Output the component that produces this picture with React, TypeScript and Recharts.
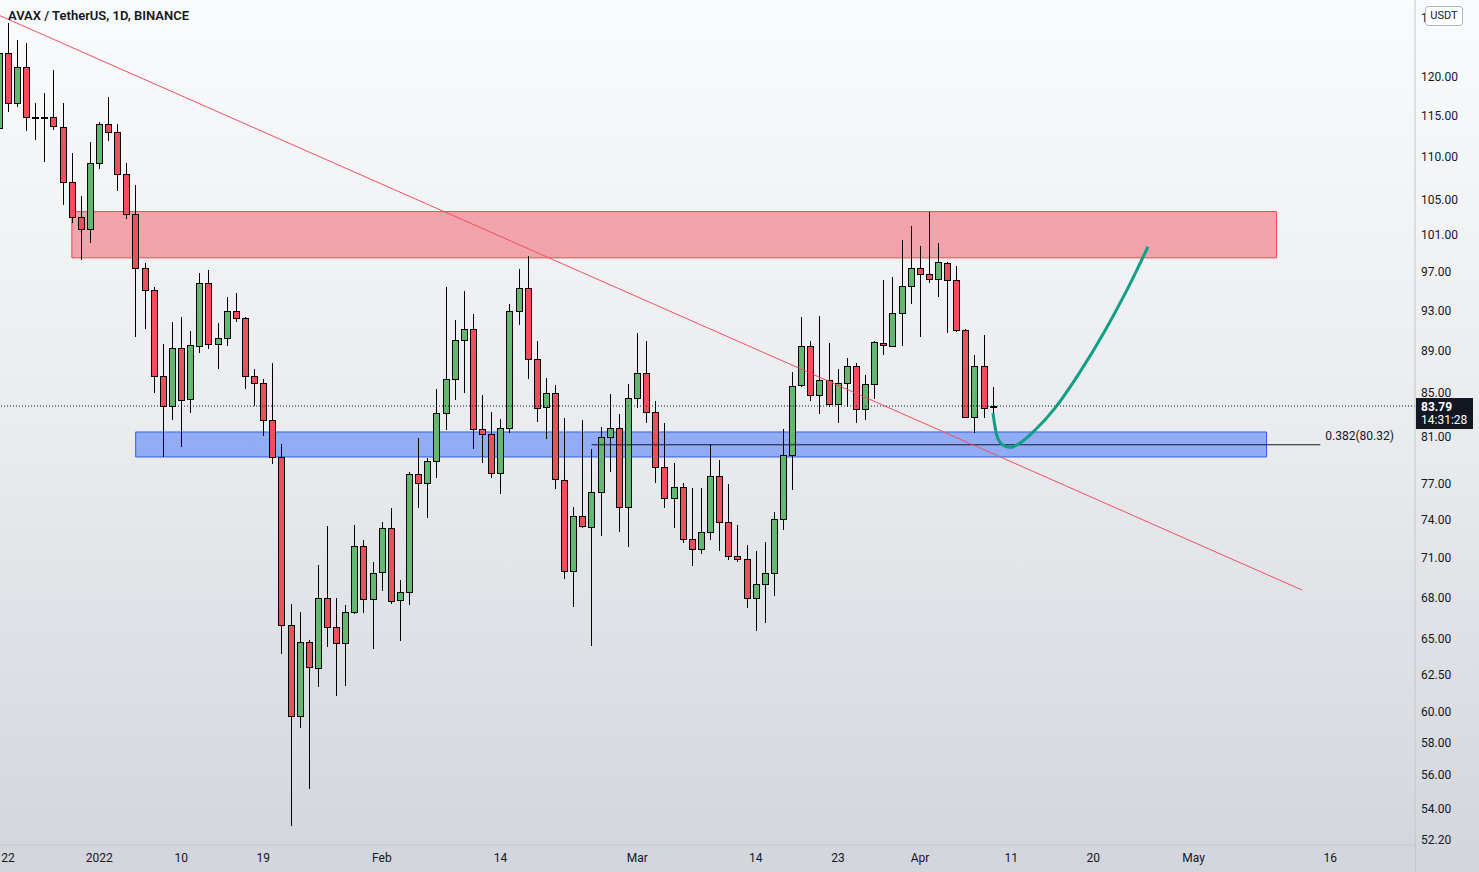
import React from "react";
import { ComposedChart, Bar, Line, XAxis, YAxis, ReferenceArea, ReferenceLine } from "recharts";

// daily candles, AVAX/USDT, Dec 21 2021 .. Apr 9 2022 (day 0 = Dec 22)
const firstDay = -1;
const opens = [
  113.5, 123.2, 116.6, 121.3, 114.9, 114.8, 114.9, 113.6, 107.0, 103.0, 101.6, 109.25, 114.0, 113.0, 108.0, 103.35,
  97.4, 95.1, 86.6, 83.8, 89.27, 84.43, 89.46, 95.83, 89.66, 90.25, 92.95, 92.24, 86.6, 85.92, 82.52, 79.26,
  65.97, 59.73, 64.76, 62.95, 67.95, 65.83, 64.69, 66.91, 71.92, 67.87, 69.9, 73.34, 67.8, 68.39, 77.8, 77.04,
  78.91, 83.16, 86.3, 90.05, 91.14, 81.71, 81.27, 77.88, 81.8, 92.95, 95.31, 88.2, 83.7, 85.0, 77.29, 69.98,
  74.31, 73.42, 76.28, 81.0, 81.8, 75.05, 84.53, 86.87, 83.25, 78.4, 75.79, 76.7, 72.47, 71.68, 73.02, 77.63,
  73.83, 71.14, 70.91, 67.95, 69.0, 69.83, 74.07, 79.43, 85.74, 89.46, 84.8, 86.2, 83.98, 85.92, 87.53, 83.52,
  85.83, 89.76, 89.46, 92.75, 95.52, 97.4, 96.78, 96.25, 97.95, 96.15, 91.04, 82.79, 87.53, 83.7,
];
const highs = [
  124.2, 127.3, 124.9, 124.5, 116.7, 117.9, 120.9, 116.6, 110.4, 105.4, 111.8, 114.25, 117.4, 114.0, 109.25, 106.65,
  97.95, 95.4, 89.66, 91.84, 92.34, 90.94, 96.9, 97.2, 91.74, 94.38, 94.8, 92.34, 87.25, 86.3, 87.8, 80.39,
  67.5, 66.91, 64.9, 70.45, 73.5, 67.95, 67.43, 73.58, 72.39, 70.68, 73.83, 74.96, 69.3, 77.97, 80.92, 79.17,
  85.36, 95.42, 92.04, 95.0, 92.65, 84.8, 83.25, 82.61, 93.66, 97.3, 98.7, 89.95, 86.39, 85.74, 82.7, 75.05,
  82.52, 79.95, 81.89, 84.9, 83.07, 85.83, 90.74, 89.95, 84.25, 82.25, 78.74, 77.04, 76.62, 76.62, 80.39, 79.0,
  76.95, 73.58, 72.0, 71.52, 72.23, 74.64, 81.71, 86.96, 92.34, 89.95, 92.44, 89.76, 87.25, 88.29, 87.8, 86.67,
  89.95, 96.15, 96.47, 100.4, 101.98, 99.77, 103.6, 100.1, 98.06, 97.63, 91.1, 88.58, 90.54, 85.55,
];
const lows = [
  113.0, 115.5, 116.1, 113.1, 112.0, 109.4, 113.25, 104.35, 102.35, 98.3, 100.1, 108.5, 111.9, 106.0, 102.8, 90.35,
  91.14, 85.0, 79.26, 82.52, 80.12, 83.16, 88.78, 89.17, 87.25, 89.46, 91.84, 85.36, 83.8, 81.09, 78.66, 63.92,
  52.98, 58.96, 55.16, 61.65, 64.41, 61.05, 61.72, 66.76, 66.84, 64.27, 68.46, 67.5, 64.83, 67.43, 74.96, 74.15,
  77.46, 81.62, 84.34, 85.0, 79.95, 78.74, 77.46, 76.12, 81.36, 91.54, 86.3, 82.34, 80.83, 76.53, 69.38, 67.28,
  73.34, 64.48, 72.71, 77.97, 73.02, 71.84, 83.61, 82.25, 77.04, 74.96, 73.34, 72.15, 70.37, 71.29, 72.39, 71.52,
  70.83, 70.68, 67.21, 65.54, 66.11, 68.1, 73.18, 76.45, 85.55, 84.25, 83.07, 83.7, 82.25, 83.7, 82.25, 82.52,
  84.43, 88.58, 89.36, 89.46, 93.66, 90.35, 95.83, 94.38, 90.74, 90.84, 82.7, 81.36, 82.7, 82.79,
];
const closes = [
  123.2, 116.6, 121.3, 114.9, 114.8, 114.9, 113.75, 107.0, 103.0, 101.6, 109.25, 114.0, 113.0, 108.0, 103.35, 97.4,
  95.1, 86.6, 83.8, 89.27, 84.34, 89.56, 95.83, 89.66, 90.25, 92.95, 92.24, 86.6, 85.92, 82.52, 79.26, 65.97,
  59.73, 64.76, 63.02, 67.95, 65.83, 64.69, 66.91, 71.92, 67.87, 69.83, 73.34, 67.73, 68.39, 77.8, 77.04, 78.91,
  83.16, 86.3, 90.05, 91.14, 81.71, 81.27, 77.88, 81.8, 92.95, 95.31, 88.2, 83.61, 85.0, 77.38, 69.98, 74.31,
  73.5, 76.28, 81.0, 81.8, 75.05, 84.53, 86.87, 83.25, 78.4, 75.79, 76.7, 72.47, 71.68, 73.02, 77.63, 73.83,
  71.14, 70.91, 67.95, 69.0, 69.83, 74.07, 79.43, 85.64, 89.46, 84.8, 86.2, 83.98, 85.92, 87.53, 83.52, 85.83,
  89.85, 89.56, 92.75, 95.52, 97.4, 96.78, 96.25, 98.06, 96.15, 91.04, 82.79, 87.53, 83.61, 83.79,
];

const timeTicks = [0, 10, 19, 28, 41, 54, 69, 82, 91, 100, 110, 119, 130, 145];
const timeLabels = ["22", "2022", "10", "19", "Feb", "14", "Mar", "14", "23", "Apr", "11", "20", "May", "16"];
const priceTicks = [128, 120, 115, 110, 105, 101, 97, 93, 89, 85, 81, 77, 74, 71, 68, 65, 62.5, 60, 58, 56, 54, 52.2];

const lastPrice = 83.79;
const fibLevel = 80.32;

// drawn tools (day index / price)
const resistanceDays = [7.0, 139.1];
const resistancePrices = [98.5, 103.6];
const supportDays = [14.0, 138.0];
const supportPrices = [79.26, 81.45];
const fibDays = [64.0, 143.9];
const trendDays = [-0.877, 141.9];
const trendPrices = [128.3, 68.54];
const projDays = [108, 108.44, 109.1, 109.9, 111.0, 112.6, 114.8, 117.5, 120.3, 122.8, 125.0];
const projPrices = [83.16, 81.1, 80.3, 80.1, 80.5, 81.6, 83.6, 86.9, 91.0, 95.3, 99.7];

const candles = opens.map((o, k) => ({
  i: firstDay + k,
  o,
  h: highs[k],
  l: lows[k],
  c: closes[k],
  range: [lows[k], highs[k]],
}));
const projection = projDays.map((d, k) => ({ i: d, p: projPrices[k] }));

const UP = "#63b86f";
const DOWN = "#ef4f5d";
const INK = "#131722";
const FONT = "Roboto, 'DejaVu Sans', sans-serif";

function Candle(props: any) {
  const { x, y, width, height, payload } = props;
  if (x == null || payload == null) return null;
  const { o, h, l, c } = payload;
  const top = Math.min(y, y + height);
  const span = Math.abs(height);
  const lh = Math.log(h);
  const ll = Math.log(l);
  const py = (v: number) => (lh === ll ? top : top + (span * (lh - Math.log(v))) / (lh - ll));
  const cx = Math.round(x + width / 2);
  const yo = py(o);
  const yc = py(c);
  const bTop = Math.round(Math.min(yo, yc)) + 0.5;
  const bBot = Math.max(Math.round(Math.max(yo, yc)) + 0.5, bTop + 1);
  return (
    <g shapeRendering="crispEdges">
      <line x1={cx + 0.5} x2={cx + 0.5} y1={top} y2={top + span} stroke="#000" strokeWidth={1} />
      <rect
        x={cx - 2.5}
        y={bTop}
        width={6}
        height={bBot - bTop}
        fill={c >= o ? UP : DOWN}
        stroke="#000"
        strokeWidth={1}
      />
    </g>
  );
}

function PriceTag(props: any) {
  const vb = props.viewBox;
  if (!vb) return null;
  const x = vb.x + vb.width + 1;
  const y = vb.y;
  return (
    <g>
      <rect x={x} y={y - 8} width={57} height={31} fill={INK} />
      <text x={x + 5} y={y + 2} fill="#fff" fontSize={12} fontWeight={700} fontFamily={FONT} dominantBaseline="middle">
        {lastPrice.toFixed(2)}
      </text>
      <text x={x + 5} y={y + 15} fill="#fff" fontSize={12} fontFamily={FONT} dominantBaseline="middle">
        14:31:28
      </text>
    </g>
  );
}

function FibTag(props: any) {
  const vb = props.viewBox;
  if (!vb) return null;
  return (
    <text x={vb.x + vb.width + 5} y={vb.y - 8} fill={INK} fontSize={12} fontFamily={FONT} dominantBaseline="middle">
      {`0.382(${fibLevel.toFixed(2)})`}
    </text>
  );
}

export default function App() {
  return (
    <div
      style={{
        position: "absolute",
        left: 0,
        top: 0,
        width: 1479,
        height: 872,
        overflow: "hidden",
        background: "linear-gradient(to bottom, #fafbfc 0%, #e9ebee 50%, #d2d5dc 100%)",
        fontFamily: FONT,
      }}
    >
      <ComposedChart width={1479} height={872} data={candles} margin={{ top: 0, right: 0, bottom: 0, left: 0 }}>
        <XAxis
          dataKey="i"
          type="number"
          domain={[-0.877, 154.28]}
          allowDataOverflow
          ticks={timeTicks}
          interval={0}
          tickFormatter={(v: number) => timeLabels[timeTicks.indexOf(v)] ?? ""}
          height={27}
          tickSize={0}
          tickMargin={8}
          tickLine={false}
          axisLine={{ stroke: "#c3c6ce" }}
          tick={{ fill: INK, fontSize: 12, fontFamily: FONT }}
        />
        <YAxis
          orientation="right"
          scale="log"
          type="number"
          domain={[51.89, 130.52]}
          allowDataOverflow
          ticks={priceTicks}
          interval={0}
          tickFormatter={(v: number) => v.toFixed(2)}
          width={64}
          tickSize={0}
          tickMargin={6}
          tickLine={false}
          axisLine={{ stroke: "#c3c6ce" }}
          tick={{ fill: INK, fontSize: 12, fontFamily: FONT, textAnchor: "start" }}
        />
        <ReferenceArea
          x1={resistanceDays[0]}
          x2={resistanceDays[1]}
          y1={resistancePrices[0]}
          y2={resistancePrices[1]}
          fill="#f23645"
          fillOpacity={0.42}
          stroke="#f23645"
          strokeOpacity={0.9}
        />
        <ReferenceArea
          x1={supportDays[0]}
          x2={supportDays[1]}
          y1={supportPrices[0]}
          y2={supportPrices[1]}
          fill="#2962ff"
          fillOpacity={0.45}
          stroke="#2f5fe0"
        />
        <Bar dataKey="range" barSize={7} shape={<Candle />} isAnimationActive={false} />
        <ReferenceLine
          segment={[
            { x: fibDays[0], y: fibLevel },
            { x: fibDays[1], y: fibLevel },
          ]}
          stroke={INK}
          strokeWidth={1}
          label={FibTag}
        />
        <ReferenceLine
          segment={[
            { x: trendDays[0], y: trendPrices[0] },
            { x: trendDays[1], y: trendPrices[1] },
          ]}
          stroke="#f0505e"
          strokeWidth={1}
        />
        <ReferenceLine y={lastPrice} stroke={INK} strokeDasharray="1 2" label={PriceTag} />
        <Line
          data={projection}
          dataKey="p"
          type="monotone"
          stroke="#0e9f86"
          strokeWidth={3}
          dot={false}
          activeDot={false}
          isAnimationActive={false}
        />
      </ComposedChart>
      <div
        style={{
          position: "absolute",
          left: 8,
          top: 8,
          fontSize: 13,
          fontWeight: 600,
          color: INK,
          lineHeight: "16px",
        }}
      >
        AVAX / TetherUS, 1D, BINANCE
      </div>
      <div
        style={{
          position: "absolute",
          left: 1425,
          top: 6,
          width: 36,
          height: 18,
          background: "#fff",
          border: "1px solid #b2b5be",
          borderRadius: 3,
          fontSize: 11,
          lineHeight: "18px",
          textAlign: "center",
          color: INK,
        }}
      >
        USDT
      </div>
      <div style={{ position: "absolute", left: 1415, top: 845, width: 1, height: 27, background: "#c3c6ce" }} />
    </div>
  );
}
